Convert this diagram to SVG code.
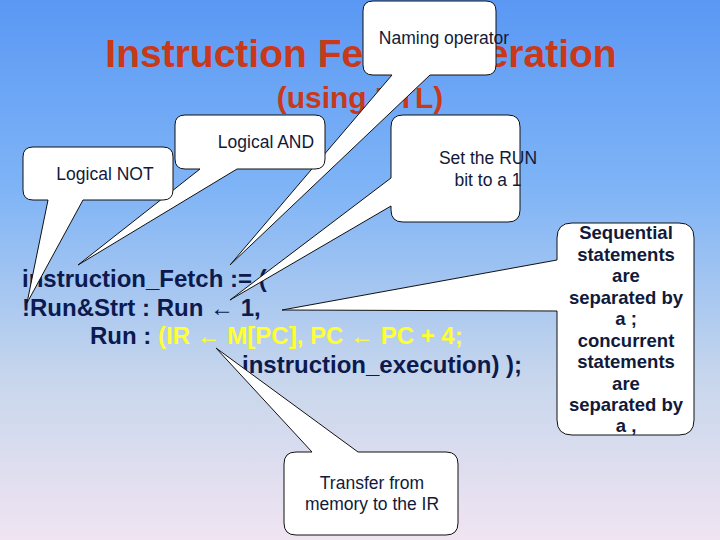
<svg xmlns="http://www.w3.org/2000/svg" width="720" height="540" viewBox="0 0 720 540">
<defs>
<linearGradient id="bg" x1="0" y1="0" x2="0" y2="1">
<stop offset="0" stop-color="#5a98f4"/>
<stop offset="0.35" stop-color="#7fb4f6"/>
<stop offset="0.7" stop-color="#c7d6ec"/>
<stop offset="1" stop-color="#f0e4f2"/>
</linearGradient>
<style>
.t{font-family:"Liberation Sans",Arial,sans-serif;font-weight:bold;fill:#c8391a;text-anchor:middle}
.c{font-family:"Liberation Sans",Arial,sans-serif;font-weight:bold;font-size:24px;fill:#0c1a4e}
.y{fill:#ffff33}
.co{fill:#fff;stroke:#111;stroke-width:1}
.l{font-family:"Liberation Sans",Arial,sans-serif;font-size:17.5px;fill:#111a3a;text-anchor:middle}
.s{font-family:"Liberation Sans",Arial,sans-serif;font-size:18.5px;font-weight:bold;fill:#111a3a;text-anchor:middle}
</style>
</defs>
<rect width="720" height="540" fill="url(#bg)"/>
<text class="t" x="361" y="67" font-size="39">Instruction Fetch Operation</text>
<text class="t" x="360" y="108" font-size="30">(using RTL)</text>
<g id="code">
<text class="c" x="22" y="287">instruction_Fetch := (</text>
<text class="c" x="22" y="316">!Run&amp;Strt : Run ← 1,</text>
<text class="c" x="90" y="344">Run : <tspan class="y">(IR ← M[PC], PC ← PC + 4;</tspan></text>
<text class="c" x="242" y="373">instruction_execution) );</text>
</g>
<g id="connectors"></g>
<g id="naming">
<path class="co" d="M373,1 H486 Q496,1 496,11 V65 Q496,75 486,75 H430 L230,265 L392,75 H373 Q363,75 363,65 V11 Q363,1 373,1 Z"/>
<text class="l" x="444" y="44">Naming operator</text>
</g>
<g id="and">
<path class="co" d="M185,115 H315 Q325,115 325,125 V159 Q325,169 315,169 H237 L78,265 L200,169 H185 Q175,169 175,159 V125 Q175,115 185,115 Z"/>
<text class="l" x="266" y="148">Logical AND</text>
</g>
<g id="not">
<path class="co" d="M33,147 H163 Q173,147 173,157 V190 Q173,200 163,200 H83 L27,303 L48,200 H33 Q23,200 23,190 V157 Q23,147 33,147 Z"/>
<text class="l" x="105" y="180">Logical NOT</text>
</g>
<g id="setrun">
<path class="co" d="M403,115 H508 Q520,115 520,127 V210 Q520,222 508,222 H403 Q391,222 391,210 V206 L230,300 L391,178 V127 Q391,115 403,115 Z"/>
<text class="l" x="488" y="164">Set the RUN</text>
<text class="l" x="488" y="186">bit to a 1</text>
</g>
<g id="seq">
<path class="co" d="M572,223 H679 Q694,223 694,238 V420 Q694,435 679,435 H572 Q557,435 557,420 V311 L282,310 L557,260 V238 Q557,223 572,223 Z"/>
<text class="s" x="626" y="239">Sequential</text>
<text class="s" x="626" y="261">statements</text>
<text class="s" x="626" y="282">are</text>
<text class="s" x="626" y="304">separated by</text>
<text class="s" x="626" y="325">a ;</text>
<text class="s" x="626" y="347">concurrent</text>
<text class="s" x="626" y="368">statements</text>
<text class="s" x="626" y="390">are</text>
<text class="s" x="626" y="411">separated by</text>
<text class="s" x="626" y="432">a ,</text>
</g>
<g id="transfer">
<path class="co" d="M296,452 H312 L216,348 L358,452 H446 Q458,452 458,464 V523 Q458,535 446,535 H296 Q284,535 284,523 V464 Q284,452 296,452 Z"/>
<text class="l" x="372" y="489">Transfer from</text>
<text class="l" x="372" y="510">memory to the IR</text>
</g>
</svg>
